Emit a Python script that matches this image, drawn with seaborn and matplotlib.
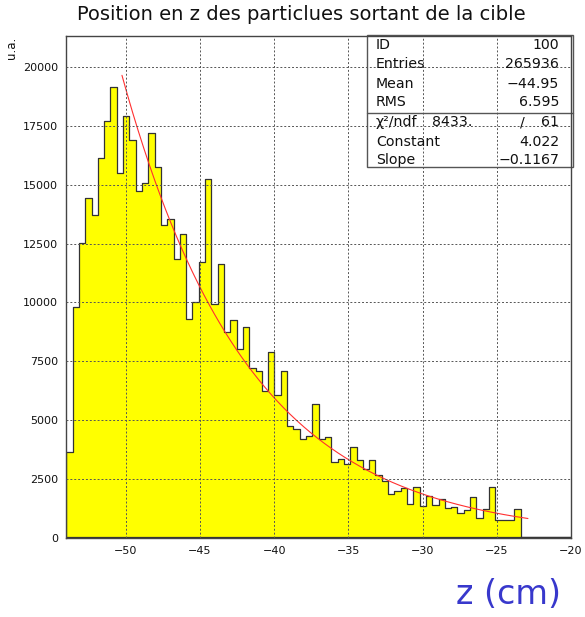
import numpy as np
import pandas as pd
import matplotlib
matplotlib.use("Agg")
import matplotlib.pyplot as plt
import seaborn as sns
from matplotlib.ticker import FixedLocator, MultipleLocator
from matplotlib.patches import Rectangle

# ---------------- data ----------------
z_low, z_high, n_bins = -54.0, -20.0, 80
counts = [3626, 9788, 12507, 14419, 13725, 16133, 17720, 19178, 15482, 17932,
          16912, 14745, 15099, 17210, 15765, 13286, 13555, 11841, 12918, 9292,
          10028, 11728, 15269, 9950, 11636, 8761, 9256, 8024, 8973, 7203,
          7061, 6240, 7869, 6055, 7100, 4731, 4632, 4207, 4334, 5680,
          4207, 4278, 3224, 3325, 3113, 3870, 3307, 2910, 3307, 2642,
          2387, 1848, 1962, 2103, 1438, 2146, 1324, 1778, 1400, 1650,
          1268, 1310, 1055, 1169, 1721, 829, 1225, 2146, 760, 760,
          729, 1197, 0, 0, 0, 0, 0, 0, 0, 0]
y_ticks = [0, 2500, 5000, 7500, 10000, 12500, 15000, 17500, 20000]
x_ticks = [-50, -45, -40, -35, -30, -25, -20]
fit_constant = 4.022
fit_slope = -0.1167
fit_range = (-50.25, -22.9)
stats_labels = ["ID", "Entries", "Mean", "RMS"]
stats_values = ["100", "265936", "\u221244.95", "6.595"]
chi2_value, ndf_value = "8433.", "61"
fit_labels = ["Constant", "Slope"]
fit_values = ["4.022", "\u22120.1167"]
title = "Position en z des particlues sortant de la cible"

# ---------------- figure ----------------
sns.set_style("white")
plt.rcParams["font.family"] = ["DejaVu Sans"]
W, H = 585, 617
fig = plt.figure(figsize=(W / 100, H / 100), dpi=100)
ax = fig.add_axes([66.3 / W, 1 - 537.5 / H, (571 - 66.3) / W, (537.5 - 36) / H])

width = (z_high - z_low) / n_bins
centers = [z_low + (i + 0.5) * width for i in range(n_bins)]
df = pd.DataFrame({"z": centers, "n": counts})
sns.histplot(data=df, x="z", weights="n", bins=n_bins, binrange=(z_low, z_high),
             element="step", fill=True, facecolor="#ffff00", edgecolor="#333333",
             linewidth=0.9, ax=ax, zorder=1)

xf = np.linspace(fit_range[0], fit_range[1], 300)
yf = np.exp(fit_constant + fit_slope * xf)
sns.lineplot(x=xf, y=yf, color="#ff3030", lw=0.8, ax=ax, zorder=1.5)

ax.set_xlim(z_low, z_high)
ax.set_ylim(0, 21330)
ax.xaxis.set_major_locator(FixedLocator(x_ticks))
ax.xaxis.set_minor_locator(MultipleLocator(1))
ax.yaxis.set_major_locator(FixedLocator(y_ticks))
ax.yaxis.set_minor_locator(MultipleLocator(500))
ax.set_xticklabels([f"\u2212{abs(v)}" for v in x_ticks])
ax.set_yticklabels([str(v) for v in y_ticks])
ax.tick_params(which="both", direction="in", top=False, right=False,
               labelsize=8, color="#333333", labelcolor="#111111")
ax.tick_params(which="major", length=8, width=0.8, pad=6)
ax.tick_params(which="minor", length=4, width=0.8)
ax.set_axisbelow(False)
ax.grid(True, which="major", linestyle=(0, (2, 2)), color="#555555", lw=0.7)
ax.set_xlabel("")
ax.set_ylabel("")
for s in ax.spines.values():
    s.set_color("#444444")
    s.set_linewidth(1.0)

def fx(px):
    return px / W

def fy(py):
    return 1 - py / H

# stats box (grid shows through it, as in the reference)
box = Rectangle((fx(367), fy(167)), fx(573) - fx(367), fy(35) - fy(167),
                transform=fig.transFigure, facecolor="white", edgecolor="#555555",
                lw=1.0, zorder=0.5, clip_on=False)
ax.add_patch(box)
ax.plot([fx(367), fx(573)], [fy(112.5), fy(112.5)], transform=fig.transFigure,
        color="#555555", lw=1.0, clip_on=False, zorder=2.1)

fs = 10.2
row_y = [45, 64, 83.5, 102.5]
for lab, val, yy in zip(stats_labels, stats_values, row_y):
    ax.text(fx(376), fy(yy), lab, transform=fig.transFigure, ha="left", va="center",
            fontsize=fs, color="#111111", zorder=3)
    ax.text(fx(559), fy(yy), val, transform=fig.transFigure, ha="right", va="center",
            fontsize=fs, color="#111111", zorder=3)
ax.text(fx(376), fy(122), "\u03c7\u00b2/ndf", transform=fig.transFigure, ha="left",
        va="center", fontsize=fs, color="#111111", zorder=3)
ax.text(fx(472), fy(122), chi2_value, transform=fig.transFigure, ha="right",
        va="center", fontsize=fs, color="#111111", zorder=3)
ax.text(fx(522), fy(122), "/", transform=fig.transFigure, ha="center",
        va="center", fontsize=fs, color="#111111", zorder=3)
ax.text(fx(559), fy(122), ndf_value, transform=fig.transFigure, ha="right",
        va="center", fontsize=fs, color="#111111", zorder=3)
for lab, val, yy in zip(fit_labels, fit_values, [141.5, 160]):
    ax.text(fx(376), fy(yy), lab, transform=fig.transFigure, ha="left", va="center",
            fontsize=fs, color="#111111", zorder=3)
    ax.text(fx(559), fy(yy), val, transform=fig.transFigure, ha="right", va="center",
            fontsize=fs, color="#111111", zorder=3)

fig.text(fx(301), fy(15), title, ha="center", va="center", fontsize=14, color="#111111")
fig.text(fx(12), fy(48), "u.a.", rotation=90, ha="center", va="center", fontsize=8.5,
         color="#111111")
fig.text(fx(509), fy(594), "z (cm)", ha="center", va="center", fontsize=24,
         color="#3838cc")

fig.savefig("out.png", dpi=100)
